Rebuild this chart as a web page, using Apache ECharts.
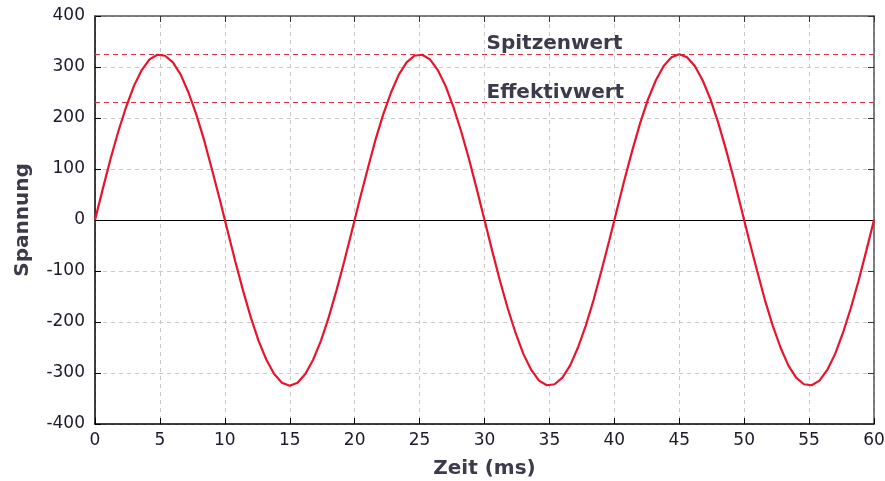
<!DOCTYPE html>
<html><head><meta charset="utf-8">
<script src="https://cdn.jsdelivr.net/npm/echarts@6/dist/echarts.min.js"></script>
<style>html,body{margin:0;padding:0;background:#fff}#c{width:885px;height:481px}</style>
</head><body><div id="c"></div>
<script>
// time in ms (step 0.6 ms)
const timeMs = [0,0.6,1.2,1.8,2.4,3,3.6,4.2,4.8,5.4,6,6.6,7.2,7.8,8.4,9,9.6,10.2,10.8,11.4,12,12.6,13.2,13.8,14.4,15,15.6,16.2,16.8,17.4,18,18.6,19.2,19.8,20.4,21,21.6,22.2,22.8,23.4,24,24.6,25.2,25.8,26.4,27,27.6,28.2,28.8,29.4,30,30.6,31.2,31.8,32.4,33,33.6,34.2,34.8,35.4,36,36.6,37.2,37.8,38.4,39,39.6,40.2,40.8,41.4,42,42.6,43.2,43.8,44.4,45,45.6,46.2,46.8,47.4,48,48.6,49.2,49.8,50.4,51,51.6,52.2,52.8,53.4,54,54.6,55.2,55.8,56.4,57,57.6,58.2,58.8,59.4,60];
const voltage = [0,61,120,174,222,263,294,315,324,322,309,285,250,207,157,100,41,-20,-81,-138,-191,-237,-274,-302,-319,-325,-319,-302,-274,-237,-191,-138,-81,-20,41,100,157,207,250,285,309,322,324,315,294,263,222,174,120,61,0,-61,-120,-174,-222,-263,-294,-315,-324,-322,-309,-285,-250,-207,-157,-100,-41,20,81,138,191,237,274,302,319,325,319,302,274,237,191,138,81,20,-41,-100,-157,-207,-250,-285,-309,-322,-324,-315,-294,-263,-222,-174,-120,-61,0];
const peakValue = 325;
const rmsValue = 230;
const labelPeak = 'Spitzenwert';
const labelRms = 'Effektivwert';
const labelX = 30;

const font = 'DejaVu Sans';
const chart = echarts.init(document.getElementById('c'));
const gridStyle = {show:true, lineStyle:{color:'#c8c8c8', type:[4,4], width:1}};
const textCol = '#3b3b4b';
chart.setOption({
  animation:false,
  grid:{left:95, right:11, top:16, bottom:57, containLabel:false, outerBoundsMode:'none'},
  xAxis:[{
    type:'value', min:0, max:60, interval:5,
    name:'Zeit (ms)', nameLocation:'middle', nameGap:35,
    nameTextStyle:{fontFamily:font, fontSize:20, fontWeight:'bold', color:textCol},
    axisLine:{show:true, onZero:false, lineStyle:{color:'#000', width:1.5}},
    axisTick:{show:true, inside:true, length:6, lineStyle:{color:'#000'}},
    axisLabel:{fontFamily:font, fontSize:17, color:'#1a1a2a', margin:8},
    splitLine:gridStyle
  },{
    type:'value', min:0, max:60, interval:5, position:'top',
    axisLine:{show:true, onZero:false, lineStyle:{color:'#555', width:1.5}},
    axisTick:{show:true, inside:true, length:6, lineStyle:{color:'#333'}},
    axisLabel:{show:false}, splitLine:{show:false}
  }],
  yAxis:[{
    type:'value', min:-400, max:400, interval:100,
    name:'Spannung', nameLocation:'middle', nameGap:62, nameRotate:90,
    nameTextStyle:{fontFamily:font, fontSize:20, fontWeight:'bold', color:textCol},
    axisLine:{show:true, onZero:false, lineStyle:{color:'#000', width:1.5}},
    axisTick:{show:true, inside:true, length:6, lineStyle:{color:'#000'}},
    axisLabel:{fontFamily:font, fontSize:17, color:'#1a1a2a', margin:10},
    splitLine:gridStyle
  },{
    type:'value', min:-400, max:400, interval:100, position:'right',
    axisLine:{show:true, onZero:false, lineStyle:{color:'#555', width:1.5}},
    axisTick:{show:true, inside:true, length:6, lineStyle:{color:'#333'}},
    axisLabel:{show:false}, splitLine:{show:false}
  }],
  series:[{
    type:'line', data:timeMs.map((t,i)=>[t,voltage[i]]),
    showSymbol:false, smooth:false,
    lineStyle:{color:'#e8142c', width:2.2}, z:5,
    markLine:{
      silent:true, symbol:['none','none'], label:{show:false},
      data:[
        {yAxis:0, lineStyle:{color:'#000', type:'solid', width:1}},
        {yAxis:peakValue, lineStyle:{color:'#e03040', type:[5,4], width:1.2}},
        {yAxis:rmsValue, lineStyle:{color:'#e03040', type:[5,4], width:1.2}}
      ]
    },
    markPoint:{
      symbol:'circle', symbolSize:0, silent:true,
      label:{show:true, position:[2,0], align:'left', verticalAlign:'bottom',
        fontFamily:font, fontSize:20, fontWeight:'bold', color:textCol},
      data:[
        {coord:[labelX, peakValue], value:labelPeak, label:{formatter:labelPeak}},
        {coord:[labelX, rmsValue], value:labelRms, label:{formatter:labelRms}}
      ]
    }
  }]
});
</script></body></html>
